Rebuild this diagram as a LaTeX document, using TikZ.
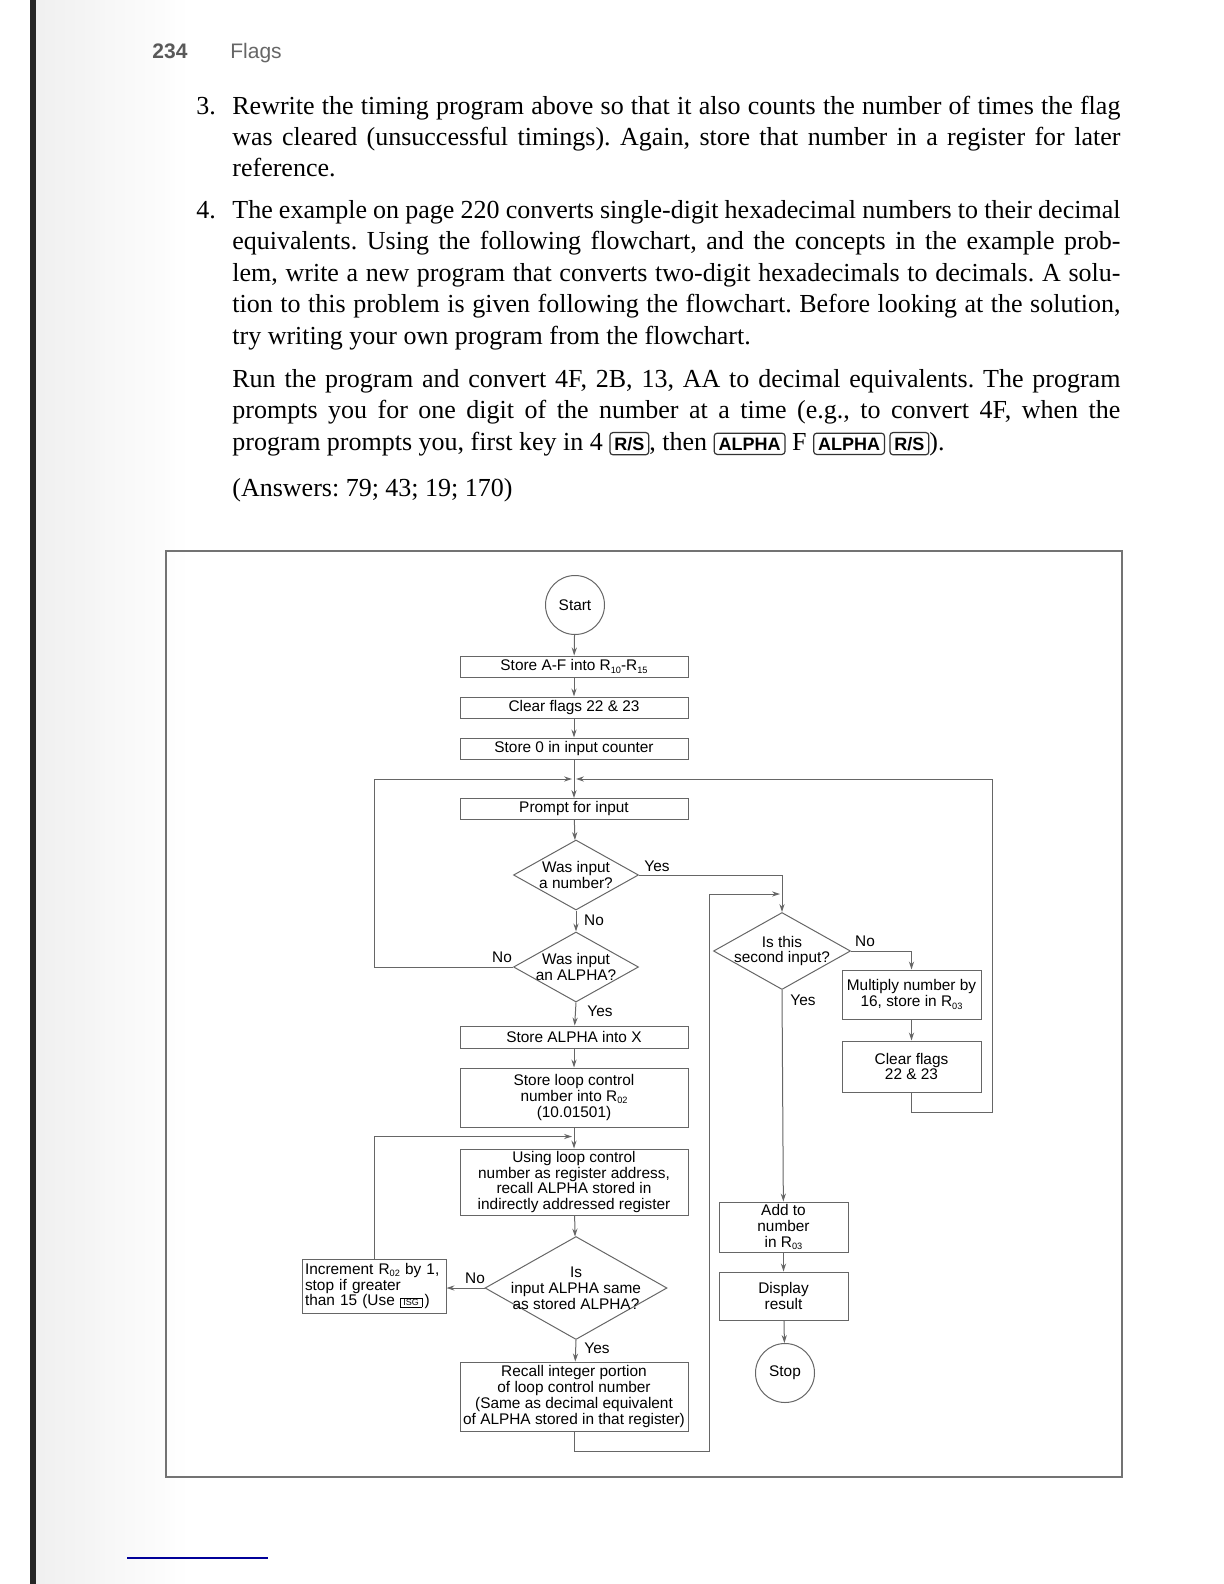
\documentclass[tikz,border=0pt]{standalone}
\usepackage{fontspec}
\setmainfont{Liberation Serif}
\newfontfamily\chartsans{Liberation Sans}
\usetikzlibrary{shapes.geometric,arrows.meta}

\newcommand\chartfont{\chartsans\fontsize{7.7}{7.9}\selectfont}
\newcommand\bodyfont{\fontsize{13}{15.75}\selectfont\frenchspacing}
\newcommand\regsub[1]{\raisebox{-1.2pt}{\fontsize{4.6}{5}\selectfont #1}}
\newcommand\isgkey{{\setlength\fboxsep{0.6pt}\setlength\fboxrule{0.3pt}\fbox{\fontsize{4.5}{5}\selectfont\,ISG\,}}}
\newcommand\keycap[1]{\tikz[baseline=(key.base)]\node[keycapbox](key){#1};}

\tikzset{
	keycapbox/.style={draw=black!80, rounded corners=1.5pt, inner sep=2.2pt, line width=0.6pt, font=\chartsans\bfseries\fontsize{9}{10}\selectfont},
	stepbox/.style={rectangle, draw=black!60, line width=0.5pt, minimum width=114pt, minimum height=10.5pt, inner sep=1pt, align=center, font=\chartfont},
	decision/.style={diamond, draw=black!60, line width=0.5pt, inner sep=0pt},
	terminal/.style={circle, draw=black!60, line width=0.5pt, minimum size=29.5pt, inner sep=0pt, font=\chartfont},
	flow/.style={draw=black!60, line width=0.5pt, -{Stealth[length=4pt,width=2.6pt]}},
	answer/.style={font=\chartfont, inner sep=1pt},
	bodytext/.style={anchor=base west, inner sep=0pt, text width=444pt, align=justify, font=\bodyfont}
}

\begin{document}
\begin{tikzpicture}[x=0.5pt, y=-0.5pt]
	\useasboundingbox (0,0) rectangle (1224,1584);
	% scan edge
	\shade[left color=gray!12, right color=white] (36,0) rectangle (190,1584);
	\fill[black!85] (30,0) rectangle (36,1584);
	\draw[blue!60!black, line width=0.6pt] (127,1558) -- (268,1558);

	% page head
	\node[anchor=base west, inner sep=0pt, text=black!65, font=\chartsans\bfseries\fontsize{10.5}{12}\selectfont] at (152,59)(pagenum){234};
	\node[anchor=base west, inner sep=0pt, text=black!60, font=\chartsans\fontsize{10.5}{12}\selectfont] at (230,59)(pagehead){Flags};

	% exercises
	\node[anchor=base west, inner sep=0pt, font=\bodyfont] at (196,114)(num3){3.};
	\node[bodytext] at (232,114)(item3){Rewrite the timing program above so that it also counts the number of times the flag\linebreak was cleared (unsuccessful timings). Again, store that number in a register for later\linebreak reference.};
	\node[anchor=base west, inner sep=0pt, font=\bodyfont] at (196,218)(num4){4.};
	\node[bodytext] at (232,218)(item4){The example on page 220 converts single-digit hexadecimal numbers to their decimal\linebreak equivalents. Using the following flowchart, and the concepts in the example prob-\linebreak lem, write a new program that converts two-digit hexadecimals to decimals. A solu-\linebreak tion to this problem is given following the flowchart. Before looking at the solution,\linebreak try writing your own program from the flowchart.};
	\node[bodytext] at (232,387)(runtext){Run the program and convert 4F, 2B, 13, AA to decimal equivalents. The program\linebreak prompts you for one digit of the number at a time (e.g., to convert 4F, when the\linebreak program prompts you, first key in 4 \keycap{R/S}, then \keycap{ALPHA} F \keycap{ALPHA}\,\keycap{R/S}).};
	\node[bodytext] at (232,496)(answers){(Answers: 79; 43; 19; 170)};

	% flowchart
	\draw[black!55, line width=0.8pt] (166,551) rectangle (1122,1477);
	\node[terminal] at (575,605)(start){Start};
	\node[stepbox] at (574,666.5)(storeaf){Store A-F into R\regsub{10}-R\regsub{15}};
	\node[stepbox] at (574,707.5)(clrflags){Clear flags 22 \& 23};
	\node[stepbox] at (574,748.5)(storezero){Store 0 in input counter};
	\coordinate (merge1) at (574,779);
	\node[stepbox] at (574,809)(prompt){Prompt for input};
	\node[decision, minimum width=62.5pt, minimum height=35pt, label={[font=\chartfont, align=center]center:Was input\\a number?}] at (576,875)(isnum){};
	\node[decision, minimum width=62.5pt, minimum height=35pt, label={[font=\chartfont, align=center]center:Was input\\an ALPHA?}] at (576,967)(isalpha){};
	\node[stepbox, minimum height=11pt] at (574,1037)(storealpha){Store ALPHA into X};
	\node[stepbox, minimum height=29.5pt] at (574,1097.5)(storeloop){Store loop control\\number into R\regsub{02}\\(10.01501)};
	\coordinate (merge2) at (574,1136.5);
	\node[stepbox, minimum height=33pt] at (574,1182)(recallind){Using loop control\\number as register address,\\recall ALPHA stored in\\indirectly addressed register};
	\node[decision, minimum width=91pt, minimum height=51.5pt, label={[font=\chartfont, align=center]center:Is\\input ALPHA same\\as stored ALPHA?}] at (576,1288)(issame){};
	\node[stepbox, minimum width=72pt, minimum height=27pt, text width=69pt, align=left] at (374,1286)(incr){Increment R\regsub{02} by 1,\\stop if greater\\than 15 (Use \isgkey\,)};
	\node[stepbox, minimum height=34.5pt] at (574,1396.5)(recallint){Recall integer portion\\of loop control number\\(Same as decimal equivalent\\of ALPHA stored in that register)};
	\coordinate (loopB) at (709,1451);
	\coordinate (merge3) at (782,894);
	\node[decision, minimum width=68.5pt, minimum height=38.5pt, label={[font=\chartfont, align=center]center:Is this\\second input?}] at (782,951)(issecond){};
	\node[stepbox, minimum width=69.5pt, minimum height=24.5pt] at (911.5,994.5)(multiply){Multiply number by\\16, store in R\regsub{03}};
	\node[stepbox, minimum width=69.5pt, minimum height=25.5pt] at (911.5,1066.5)(clrflagsb){Clear flags\\22 \& 23};
	\coordinate (loopR) at (992,1112);
	\coordinate (loopL) at (374,779);
	\node[stepbox, minimum width=64.5pt, minimum height=25pt] at (783.5,1227)(addto){Add to\\number\\in R\regsub{03}};
	\node[stepbox, minimum width=64.5pt, minimum height=24pt] at (783.5,1296)(display){Display\\result};
	\node[terminal] at (785,1373)(stop){Stop};

	\draw[flow] (start) -- (storeaf);
	\draw[flow] (storeaf) -- (clrflags);
	\draw[flow] (clrflags) -- (storezero);
	\draw[flow] (storezero) -- (prompt);
	\draw[flow] (prompt) -- (isnum);
	\draw[flow] (isnum.south) -- (isalpha.north);
	\draw[flow] (isalpha.west) -| (loopL) -- ([xshift=-1pt]merge1);
	\draw[flow] (isalpha.south) -- (storealpha);
	\draw[flow] (storealpha) -- (storeloop);
	\draw[flow] (storeloop) -- (recallind);
	\draw[flow] (recallind) -- (issame);
	\draw[flow] (issame.west) -- (issame.west -| incr.east);
	\draw[flow] (incr.north) |- ([xshift=-1pt]merge2);
	\draw[flow] (issame.south) -- (recallint);
	\draw[flow] (recallint.south) |- (loopB) |- ([xshift=-1pt]merge3);
	\draw[flow] (isnum.east) -| (issecond.north);
	\draw[flow] (issecond.east) -| (multiply.north);
	\draw[flow] (multiply) -- (clrflagsb);
	\draw[flow] (clrflagsb.south) |- (loopR) |- ([xshift=1pt]merge1);
	\draw[flow] (issecond.south) -- (addto);
	\draw[flow] (addto) -- (display);
	\draw[flow] (display) -- (stop);

	\node[answer] at (657,866)(yes1){Yes};
	\node[answer] at (594,920)(no1){No};
	\node[answer] at (502,957)(no2){No};
	\node[answer] at (600,1011)(yes2){Yes};
	\node[answer] at (475,1278)(no3){No};
	\node[answer] at (597,1348)(yes3){Yes};
	\node[answer] at (865,941)(no4){No};
	\node[answer] at (803,1000)(yes4){Yes};
\end{tikzpicture}
\end{document}
